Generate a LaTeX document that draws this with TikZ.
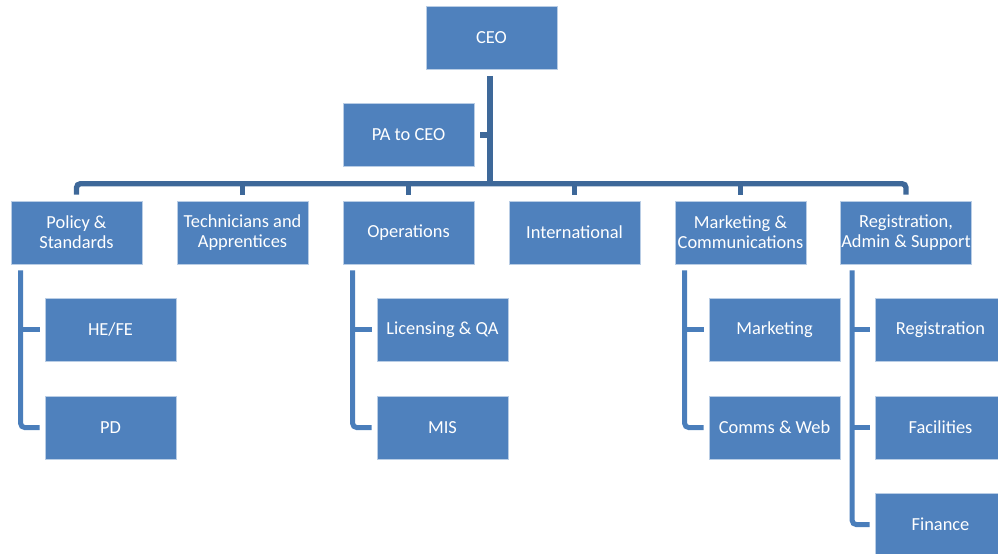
\documentclass[tikz,border=0pt]{standalone}
\usepackage{fontspec}
\setmainfont{Carlito}
\usetikzlibrary{calc}

\definecolor{boxblue}{HTML}{4F81BD}
\definecolor{linkblue}{HTML}{3E6899}
\definecolor{subblue}{HTML}{4A7EBB}

\tikzset{
  unit/.style={fill=boxblue, draw=boxblue!40!white, line width=0.5pt, text=white,
    minimum width=98.25pt, minimum height=47.25pt, inner sep=0pt, align=center,
    font=\fontsize{13.8}{15.2}\selectfont},
  link/.style={linkblue, line width=4pt, rounded corners=3},
  sub/.style={subblue, line width=3.75pt, rounded corners=3}
}

\begin{document}
\begin{tikzpicture}[x=0.75pt, y=-0.75pt]
\useasboundingbox (0,0) rectangle (998,553);

% top
\node[unit] (ceo) at (491.5,38) {CEO};
\node[unit] (pa) at (408.5,135) {PA to CEO};

% second row
\node[unit] (policy) at (76.5,232.5) {Policy \&\\Standards};
\node[unit] (tech) at (242.5,232.5) {Technicians and\\Apprentices};
\node[unit] (ops) at (408.5,232.5) {Operations};
\node[unit] (intl) at (574.5,232.5) {International};
\node[unit] (mkt) at (740.5,232.5) {Marketing \&\\Communications};
\node[unit] (reg) at (906,232.5) {Registration,\\Admin \& Support};

% third level
\node[unit] (hefe) at (110.5,329.5) {HE/FE};
\node[unit] (pd) at (110.5,427.5) {PD};
\node[unit] (lic) at (442.5,329.5) {Licensing \& QA};
\node[unit] (mis) at (442.5,427.5) {MIS};
\node[unit] (mktg) at (774.5,329.5) {Marketing};
\node[unit] (web) at (774.5,427.5) {Comms \& Web};
\node[unit] (regn) at (940.5,329.5) {Registration};
\node[unit] (fac) at (940.5,427.5) {Facilities};
\node[unit] (fin) at (940.5,524.5) {Finance};

% CEO line and bar
\draw[link] ($(ceo.south)+(-1.5,6)$) -- ($(ceo.south)+(-1.5,116)$);
\draw[link] ($(pa.east)+(6,0)$) -- ($(pa.east)+(17,0)$);
\draw[link] ($(policy.north)+(0,-6)$) -- ($(policy.north)+(0,-17)$)
  -- ($(reg.north)+(0,-17)$) -- ($(reg.north)+(0,-6)$);
\foreach \n in {tech,ops,intl,mkt}
  \draw[link] ($(\n.north)+(0,-6)$) -- ($(\n.north)+(0,-17)$);

% sub lines
\draw[sub] ($(policy.south west)+(10,6)$) |- ($(pd.west)+(-5,0)$);
\draw[sub] ($(hefe.west)+(-5,0)$) -- ($(hefe.west)+(-25,0)$);
\draw[sub] ($(ops.south west)+(10,6)$) |- ($(mis.west)+(-5,0)$);
\draw[sub] ($(lic.west)+(-5,0)$) -- ($(lic.west)+(-25,0)$);
\draw[sub] ($(mkt.south west)+(10,6)$) |- ($(web.west)+(-5,0)$);
\draw[sub] ($(mktg.west)+(-5,0)$) -- ($(mktg.west)+(-25,0)$);
\draw[sub] ($(reg.south west)+(12,6)$) |- ($(fin.west)+(-5,0)$);
\foreach \n in {regn,fac}
  \draw[sub] ($(\n.west)+(-5,0)$) -- ($(\n.west)+(-23,0)$);
\end{tikzpicture}
\end{document}
